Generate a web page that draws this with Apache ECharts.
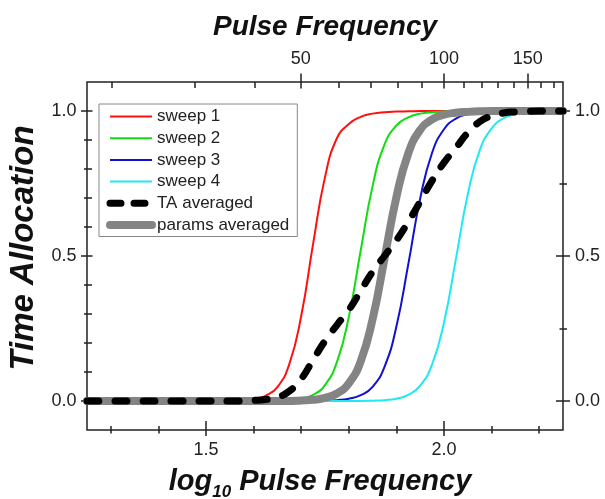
<!DOCTYPE html>
<html><head><meta charset="utf-8">
<script src="https://cdn.jsdelivr.net/npm/echarts@6/dist/echarts.min.js"></script>
<style>html,body{margin:0;padding:0;background:#fff}#c{width:605px;height:499px}</style>
</head><body><div id="c"></div>
<script>
// x positions (log10 pulse frequency) at which values were read
const xs = [1.25, 1.30, 1.35, 1.40, 1.45, 1.50, 1.55, 1.60, 1.625, 1.65, 1.675, 1.70, 1.725, 1.75, 1.775, 1.80, 1.825, 1.85, 1.875, 1.90, 1.925, 1.95, 1.975, 2.00, 2.025, 2.05, 2.075, 2.10, 2.125, 2.15, 2.175, 2.20, 2.225, 2.25];
const sweep1 = [0,0,0,0,0,0,0.001,0.006,0.018,0.048,0.127,0.293,0.542,0.772,0.906,0.955,0.980,0.991,0.996,0.998,0.999,1,1,1,1,1,1,1,1,1,1,1,1,1];
const sweep2 = [0,0,0,0,0,0,0,0,0,0.001,0.003,0.008,0.021,0.055,0.134,0.290,0.519,0.741,0.884,0.950,0.978,0.991,0.996,0.998,0.999,1,1,1,1,1,1,1,1,1];
const sweep3 = [0,0,0,0,0,0,0,0,0,0,0,0,0,0.001,0.003,0.008,0.020,0.049,0.118,0.257,0.472,0.698,0.856,0.937,0.974,0.989,0.995,0.998,0.999,1,1,1,1,1];
const sweep4 = [0,0,0,0,0,0,0,0,0,0,0,0,0,0,0,0,0,0.001,0.003,0.008,0.021,0.053,0.126,0.271,0.490,0.713,0.864,0.940,0.975,0.989,0.995,0.998,0.999,1];
const taAveraged = [0,0,0,0,0,0,0,0.002,0.005,0.013,0.034,0.076,0.142,0.207,0.262,0.314,0.380,0.446,0.500,0.554,0.618,0.688,0.760,0.822,0.873,0.925,0.963,0.983,0.993,0.997,0.999,1,1,1];
const paramsAveraged = [0,0,0,0,0,0,0,0,0,0,0,0.002,0.004,0.011,0.026,0.061,0.137,0.282,0.491,0.703,0.854,0.935,0.971,0.987,0.994,0.997,0.999,1,1,1,1,1,1,1];

const seriesNames = ['sweep 1','sweep 2','sweep 3','sweep 4','TA averaged','params averaged'];
const bottomMajor = [1.5, 2.0];
const bottomMinor = [1.3, 1.4, 1.6, 1.7, 1.8, 1.9, 2.1, 2.2];
const topLabels = [50, 100, 150];
const topMinor = [20, 30, 40, 60, 70, 80, 90, 110, 120, 130, 140, 160, 170];
const leftMajor = [0, 0.5, 1.0];
const leftMinor = [0.1, 0.2, 0.3, 0.4, 0.6, 0.7, 0.8, 0.9];
const rightMajor = [0, 0.5, 1.0];
const rightMinor = [0.25, 0.75];

const F = '"Liberation Sans", Arial, sans-serif';
const C = '#222';
const titleStyle = {fontSize: 28, fontWeight: 'bold', fontStyle: 'italic', fontFamily: F, color: '#111'};

function xAx(extra) {
  return Object.assign({
    type: 'value', min: 1.25, max: 2.25,
    axisLine: {show: false, onZero: false},
    splitLine: {show: false},
    axisLabel: {show: false},
    axisTick: {show: false},
    axisPointer: {show: false}
  }, extra);
}
function yAx(extra) {
  return Object.assign({
    type: 'value', min: -0.1, max: 1.1,
    axisLine: {show: false, onZero: false},
    splitLine: {show: false},
    axisLabel: {show: false},
    axisTick: {show: false},
    axisPointer: {show: false}
  }, extra);
}
const tickLine = {color: C, width: 1.5};
const labelStyle = {show: true, fontSize: 18, color: C, fontFamily: F};

const chart = echarts.init(document.getElementById('c'), null, {renderer: 'canvas'});
const colors = ['#ff1010', '#10dd10', '#1010d0', '#20e8f4'];
const data = [sweep1, sweep2, sweep3, sweep4];

const series = data.map((ys, k) => ({
  name: seriesNames[k], type: 'line', symbol: 'none', smooth: 0.5,
  z: 2, silent: true,
  lineStyle: {width: 2, color: colors[k]},
  itemStyle: {color: colors[k]},
  data: xs.map((x, i) => [x, ys[i]])
}));
series.push({
  name: seriesNames[5], type: 'line', symbol: 'none', smooth: 0.5,
  z: 3, silent: true,
  lineStyle: {width: 8, color: '#848484', cap: 'round', join: 'round'},
  itemStyle: {color: '#848484'},
  data: xs.map((x, i) => [x, paramsAveraged[i]])
});
series.push({
  name: seriesNames[4], type: 'line', symbol: 'none', smooth: 0.5,
  z: 4, silent: true,
  lineStyle: {width: 7, color: '#000', type: [12, 16], cap: 'round', join: 'round'},
  itemStyle: {color: '#000'},
  data: xs.map((x, i) => [x, taAveraged[i]])
});

const hideSym = {opacity: 0, borderWidth: 0};
chart.setOption({
  animation: false,
  backgroundColor: '#fff',
  grid: {left: 87, top: 82, width: 476, height: 348, show: true, borderColor: C, borderWidth: 1.5,
    backgroundColor: 'transparent', containLabel: false, outerBoundsMode: 'none'},
  legend: {
    orient: 'vertical', left: 99, top: 104, itemWidth: 42, itemHeight: 14, itemGap: 4.7,
    padding: [4, 8, 3, 7], borderColor: '#888', borderWidth: 1, selectedMode: false,
    textStyle: {fontSize: 17, color: C, fontFamily: F},
    itemStyle: hideSym,
    data: [
      {name: seriesNames[0], lineStyle: {width: 2}, itemStyle: hideSym},
      {name: seriesNames[1], lineStyle: {width: 2}, itemStyle: hideSym},
      {name: seriesNames[2], lineStyle: {width: 2}, itemStyle: hideSym},
      {name: seriesNames[3], lineStyle: {width: 2}, itemStyle: hideSym},
      {name: seriesNames[4], lineStyle: {width: 7, type: [11, 13], dashOffset: 0, cap: 'round', color: '#000'}, itemStyle: hideSym},
      {name: seriesNames[5], lineStyle: {width: 8, cap: 'round', color: '#848484'}, itemStyle: hideSym}
    ]
  },
  xAxis: [
    xAx({position: 'bottom', offset: -9,
      axisTick: {show: true, customValues: bottomMajor, length: 15, lineStyle: tickLine},
      axisLabel: Object.assign({}, labelStyle, {customValues: bottomMajor, margin: 20, formatter: v => v.toFixed(1)}),
      name: '{i|log}{s|10}{i| Pulse Frequency}', nameLocation: 'middle', nameGap: 46,
      nameTextStyle: {padding: [0, 10, 0, 0], rich: {
        i: Object.assign({}, titleStyle, {fontSize: 29, lineHeight: 30, verticalAlign: 'top'}),
        s: Object.assign({}, titleStyle, {fontSize: 17, lineHeight: 34, verticalAlign: 'bottom'})
      }}
    }),
    xAx({position: 'bottom', offset: -4,
      axisTick: {show: true, customValues: bottomMinor, length: 7.5, lineStyle: tickLine}}),
    xAx({position: 'top', offset: -6.6,
      axisTick: {show: true, customValues: topLabels.map(Math.log10), length: 15, lineStyle: tickLine},
      axisLabel: Object.assign({}, labelStyle, {customValues: topLabels.map(Math.log10), margin: 21,
        formatter: v => String(Math.round(Math.pow(10, v)))}),
      name: 'Pulse Frequency', nameLocation: 'middle', nameGap: 47, nameTextStyle: titleStyle
    }),
    xAx({position: 'top', offset: 0,
      axisTick: {show: true, inside: true, customValues: topMinor.map(Math.log10), length: 6, lineStyle: tickLine}})
  ],
  yAxis: [
    yAx({position: 'left', offset: -5.5,
      axisTick: {show: true, customValues: leftMajor, length: 11.5, lineStyle: tickLine},
      axisLabel: Object.assign({}, labelStyle, {customValues: leftMajor, margin: 16, formatter: v => v.toFixed(1)}),
      name: 'Time Allocation', nameLocation: 'middle', nameGap: 50,
      nameTextStyle: Object.assign({}, titleStyle, {fontSize: 33, padding: [0, 0, 0, 16]})
    }),
    yAx({position: 'left', offset: -5,
      axisTick: {show: true, customValues: leftMinor, length: 8, lineStyle: tickLine}}),
    yAx({position: 'right', offset: -7,
      axisTick: {show: true, customValues: rightMajor, length: 14, lineStyle: tickLine},
      axisLabel: Object.assign({}, labelStyle, {customValues: rightMajor, margin: 19, formatter: v => v.toFixed(1)})
    }),
    yAx({position: 'right', offset: -3.5,
      axisTick: {show: true, customValues: rightMinor, length: 7.5, lineStyle: tickLine}})
  ],
  series: series
});
</script></body></html>
